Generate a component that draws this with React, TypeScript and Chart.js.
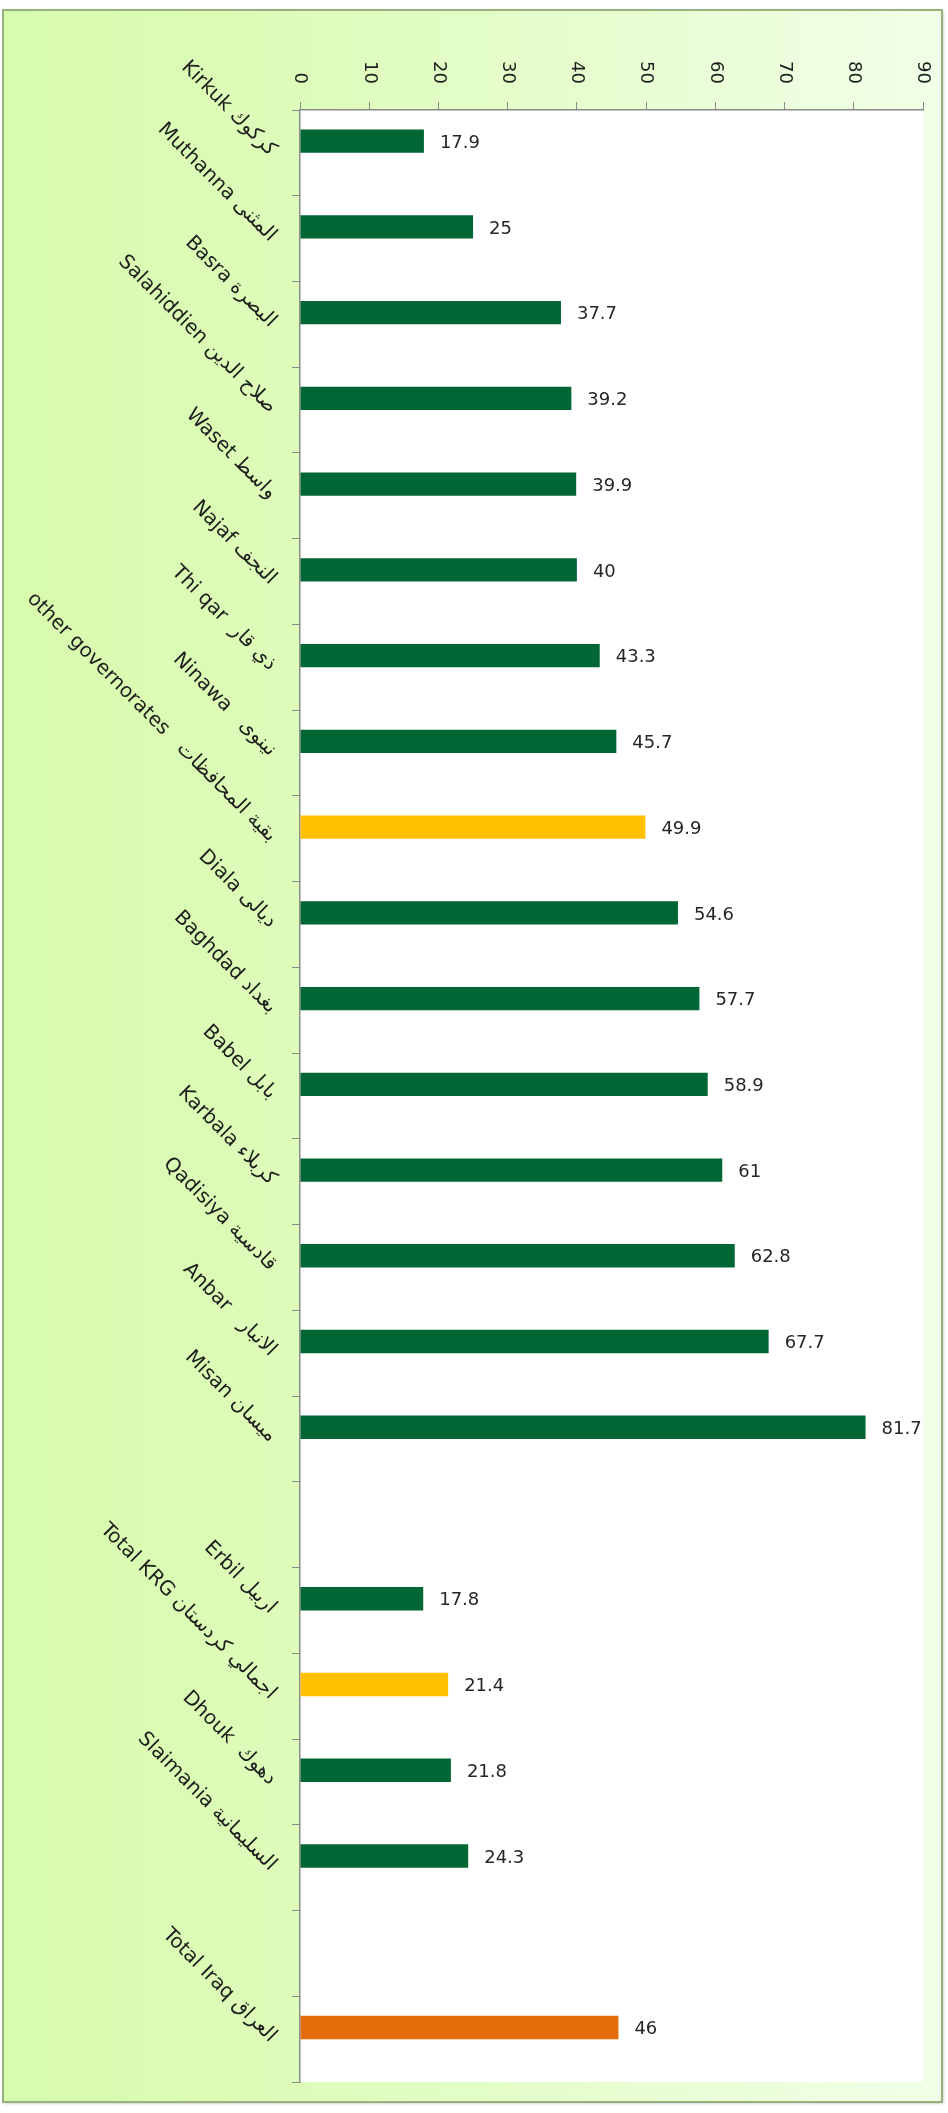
import React, { useEffect, useRef } from 'react';
import { Chart, registerables } from 'chart.js';

Chart.register(...registerables);

const CATEGORIES: string[] = [
  'Kirkuk كركوك',
  'Muthanna المثنى',
  'Basra البصرة',
  'Salahiddien صلاح الدين',
  'Waset واسط',
  'Najaf النجف',
  'Thi qar  ذي قار',
  'Ninawa   نينوى',
  'other governorates   بقية المحافظات',
  'Diala ديالى',
  'Baghdad بغداد',
  'Babel بابل',
  'Karbala كربلاء',
  'Qadisiya قادسية',
  'Anbar   الانبار',
  'Misan ميسان',
  '',
  'Erbil اربيل',
  'Total KRG اجمالي كردستان',
  'Dhouk  دهوك',
  'Slaimania السليمانية',
  '',
  'Total Iraq العراق',
];

const VALUES: (number | null)[] = [
  17.9, 25, 37.7, 39.2, 39.9, 40, 43.3, 45.7, 49.9, 54.6, 57.7, 58.9, 61, 62.8, 67.7, 81.7,
  null,
  17.8, 21.4, 21.8, 24.3,
  null,
  46,
];

const GREEN = '#006633';
const YELLOW = '#FFC000';
const ORANGE = '#E46C0A';

const BAR_COLORS: string[] = [
  GREEN, GREEN, GREEN, GREEN, GREEN, GREEN, GREEN, GREEN, YELLOW, GREEN, GREEN, GREEN, GREEN, GREEN, GREEN, GREEN,
  GREEN,
  GREEN, YELLOW, GREEN, GREEN,
  GREEN,
  ORANGE,
];

const X_MIN = 0;
const X_MAX = 90;
const X_STEP = 10;

const FONT_FAMILY = '"DejaVu Sans", Verdana, sans-serif';
const AXIS_GRAY = '#8a8a8a';
const TEXT_COLOR = '#1e1e1e';

const backgroundPlugin = {
  id: 'bgFrame',
  beforeDraw(chart: any) {
    const { ctx, chartArea } = chart;
    ctx.save();
    const fx = 3, fy = 10, fw = 939, fh = 2092;
    const g = ctx.createLinearGradient(fx, 0, fx + fw, 0);
    g.addColorStop(0, '#D7FBAC');
    g.addColorStop(0.3, '#DDFCB9');
    g.addColorStop(1, '#F1FFE8');
    ctx.shadowColor = 'rgba(0,0,0,0.3)';
    ctx.shadowBlur = 3;
    ctx.shadowOffsetX = 1;
    ctx.shadowOffsetY = 1;
    ctx.fillStyle = g;
    ctx.fillRect(fx, fy, fw, fh);
    ctx.shadowColor = 'transparent';
    ctx.strokeStyle = '#98B07C';
    ctx.lineWidth = 2;
    ctx.strokeRect(fx, fy, fw, fh);
    ctx.fillStyle = '#FFFFFF';
    ctx.fillRect(chartArea.left, chartArea.top, chartArea.right - chartArea.left, chartArea.bottom - chartArea.top);
    ctx.restore();

    // x-axis labels: rotated clockwise, ending at the axis
    const xs = chart.scales.x;
    const items = xs.getLabelItems(chartArea);
    items.forEach((it: any, i: number) => {
      const px = xs.getPixelForTick(i);
      it.options.textAlign = 'right';
      it.options.translation = [px, it.options.translation[1]];
      it.textOffset = 0;
    });
  },
};

const valueLabelPlugin = {
  id: 'valueLabels',
  afterDatasetsDraw(chart: any) {
    const { ctx } = chart;
    const meta = chart.getDatasetMeta(0);
    ctx.save();
    ctx.font = `18px ${FONT_FAMILY}`;
    ctx.fillStyle = '#262626';
    ctx.textAlign = 'left';
    ctx.textBaseline = 'middle';
    meta.data.forEach((el: any, i: number) => {
      const v = VALUES[i];
      if (v == null) return;
      ctx.fillText(String(v), el.x + 16, el.y + 2);
    });
    ctx.restore();
  },
};

export default function App() {
  const ref = useRef<HTMLCanvasElement | null>(null);

  useEffect(() => {
    document.body.style.margin = '0';
    const canvas = ref.current;
    if (!canvas) return;
    const chart = new Chart(canvas, {
      type: 'bar',
      data: {
        labels: CATEGORIES,
        datasets: [
          {
            label: 'Value',
            data: VALUES,
            backgroundColor: BAR_COLORS,
            borderWidth: 0,
            categoryPercentage: 0.545,
            barPercentage: 1,
          },
          {
            label: '',
            data: VALUES.map(() => null),
            backgroundColor: 'rgba(0,0,0,0)',
            borderWidth: 0,
            categoryPercentage: 0.545,
            barPercentage: 1,
          },
        ],
      },
      options: {
        indexAxis: 'y',
        responsive: false,
        animation: false,
        devicePixelRatio: 1,
        layout: { padding: { left: 0, top: 0, right: 25, bottom: 21 } },
        plugins: {
          legend: { display: false },
          tooltip: { enabled: false },
        },
        scales: {
          x: {
            position: 'top',
            min: X_MIN,
            max: X_MAX,
            ticks: {
              stepSize: X_STEP,
              minRotation: -90,
              maxRotation: -90,
              padding: 18,
              autoSkip: false,
              color: TEXT_COLOR,
              font: { family: FONT_FAMILY, size: 18 },
            },
            grid: { drawOnChartArea: false, drawTicks: true, tickLength: 8, color: AXIS_GRAY },
            border: { color: AXIS_GRAY, width: 1.5 },
            afterFit: (s: any) => { s.height = 110; },
          },
          y: {
            ticks: {
              minRotation: -45,
              maxRotation: -45,
              padding: 19,
              autoSkip: false,
              color: TEXT_COLOR,
              font: { family: FONT_FAMILY, size: 20 },
            },
            grid: { drawOnChartArea: false, drawTicks: true, tickLength: 8, color: AXIS_GRAY, offset: true },
            border: { color: AXIS_GRAY, width: 1.5 },
            afterFit: (s: any) => { s.width = 300; },
          },
        },
      } as any,
      plugins: [backgroundPlugin, valueLabelPlugin],
    });
    return () => chart.destroy();
  }, []);

  return (
    <div style={{ width: 948, height: 2113, position: 'relative' }}>
      <canvas ref={ref} width={948} height={2113} style={{ display: 'block', width: 948, height: 2113 }} />
    </div>
  );
}
